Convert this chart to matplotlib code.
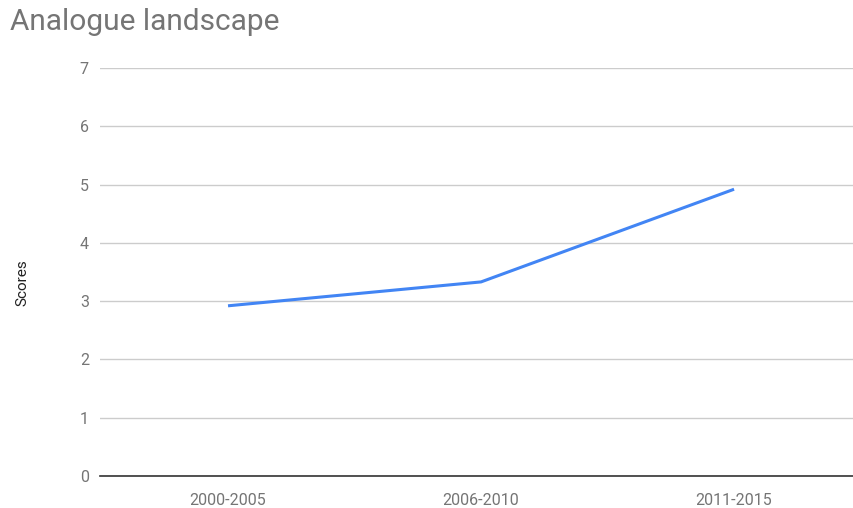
import matplotlib
matplotlib.use('Agg')
import matplotlib.pyplot as plt

plt.rcParams['font.family'] = ['Roboto', 'DejaVu Sans']

periods = ['2000-2005', '2006-2010', '2011-2015']
scores = [2.92, 3.33, 4.92]

fig = plt.figure(figsize=(8.54, 5.08), dpi=100)
ax = fig.add_axes([100 / 854, 32 / 508, 754 / 854, 408 / 508])

ax.plot(range(len(periods)), scores, color='#4285F4', linewidth=2.2, solid_capstyle='butt')

ax.set_xlim(-0.506, 2.474)
ax.set_ylim(0, 7)
ax.set_yticks(range(0, 8))
ax.set_xticks(range(len(periods)))
ax.set_xticklabels(periods)

ax.grid(axis='y', color='#cccccc', linewidth=1)
ax.set_axisbelow(True)
for s in ['top', 'right', 'left']:
    ax.spines[s].set_visible(False)
ax.spines['bottom'].set_color('#333333')
ax.spines['bottom'].set_linewidth(1.2)
ax.tick_params(axis='both', length=0, labelsize=11.5, colors='#757575', pad=8)
ax.tick_params(axis='x', pad=12)

ax.set_ylabel('Scores', fontsize=11, color='#222222')
ax.yaxis.set_label_coords(-0.094, 0.475)

fig.text(10 / 854, 1 - 22 / 508, 'Analogue landscape', fontsize=21.5, color='#757575', va='center', ha='left')

fig.savefig('out.png', dpi=100)
